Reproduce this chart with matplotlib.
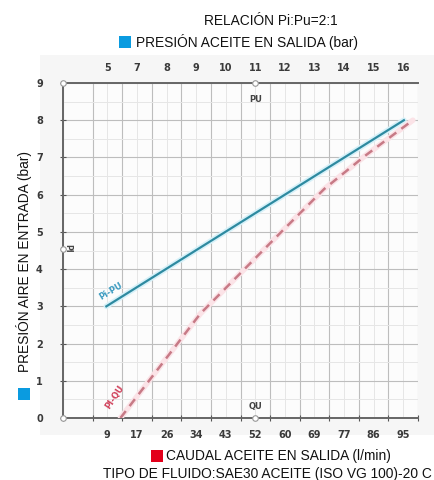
import numpy as np
import matplotlib
matplotlib.use("Agg")
import matplotlib.pyplot as plt
from matplotlib.patches import Rectangle

# ---- data ----
flow_labels = ["9", "17", "26", "34", "43", "52", "60", "69", "77", "86", "95"]
out_press_labels = ["5", "7", "8", "9", "10", "11", "12", "13", "14", "15", "16"]
in_press_ticks = [0, 1, 2, 3, 4, 5, 6, 7, 8, 9]

# Pi-PU line (flow l/min vs inlet pressure bar)
pipu_flow = [8.7, 95.2]
pipu_press = [3.0, 8.0]

# Pi-QU curve
piqu_flow = [12.8, 24, 36, 48, 60, 72, 84, 97.8]
piqu_press = [0.0, 1.35, 2.8, 3.92, 5.04, 6.15, 7.05, 8.0]

# ---- figure ----
fig = plt.figure(figsize=(4.35, 4.8), dpi=100)
fig.patches.append(Rectangle((40/435, 45/480), 395/435, 380/480, transform=fig.transFigure,
                             facecolor="#f6f6f6", edgecolor="none", zorder=-10))
ax = fig.add_axes([63/435, (480-418)/480, (418-63)/435, (418-83)/480])
ax.set_facecolor("#fcfcfc")

step = 8.6
label_pos = 9 + step*np.arange(11)
grid_pos = label_pos[0] - 1.5*step + step*np.arange(13)
ax.set_xlim(grid_pos[0], grid_pos[-1])
ax.set_ylim(0, 9)

ax.set_xticks(grid_pos)
ax.set_xticklabels([""]*len(grid_pos))
ax.set_xticks(label_pos, minor=True)
ax.set_xticklabels(flow_labels, minor=True)
ax.set_yticks(in_press_ticks)
ax.set_yticklabels([str(v) for v in in_press_ticks])
ax.set_yticks(np.arange(0.5, 9, 1), minor=True)

for lab in ax.get_xticklabels(minor=True) + ax.get_yticklabels():
    lab.set_fontsize(7); lab.set_fontweight("bold"); lab.set_color("#3a3a3a")

ax.tick_params(axis="x", which="major", direction="inout", length=5, width=0.8, color="#555", top=True)
ax.tick_params(axis="x", which="minor", length=0, pad=9)
ax.tick_params(axis="y", which="major", direction="inout", length=5, width=0.8, color="#555", pad=12)
ax.tick_params(axis="y", which="minor", length=0)

ax.grid(which="major", color="#bdbdbd", lw=0.8)
ax.grid(which="minor", color="#e6e6e6", lw=0.7)
ax.set_axisbelow(True)

for s in ["left", "top", "bottom"]:
    ax.spines[s].set_color("#666")
    ax.spines[s].set_linewidth(1.4)
ax.spines["right"].set_visible(False)

# top axis
axt = ax.twiny()
axt.set_xlim(ax.get_xlim())
axt.set_xticks(label_pos)
axt.set_xticklabels(out_press_labels, fontsize=7, fontweight="bold", color="#3a3a3a")
axt.tick_params(axis="x", length=0, pad=7)
for s in axt.spines.values():
    s.set_visible(False)

# lines
ax.plot(pipu_flow, pipu_press, color="#d6f1f9", lw=4, solid_capstyle="round", zorder=3)
ax.plot(pipu_flow, pipu_press, color="#2e8aa0", lw=1.6, zorder=4)
ax.plot(piqu_flow, piqu_press, color="#fbe3e7", lw=4, solid_capstyle="round", zorder=3)
ax.plot(piqu_flow, piqu_press, color="#c77a86", lw=1.8, dashes=(3.5, 2.5), zorder=4)

# markers on axes
mk = dict(marker="o", ms=4, mfc="white", mec="#999", mew=0.8, clip_on=False, zorder=6, ls="none")
ax.plot([grid_pos[0], grid_pos[0], grid_pos[0], 52, 52], [0, 9, 4.55, 9, 0], **mk)

# annotations
ax.text(9.9, 3.4, "Pi-PU", color="#3a9ac0", fontsize=6, fontweight="bold", rotation=31,
        ha="center", va="center", zorder=5)
ax.text(11.2, 0.55, "PI-QU", color="#d0405a", fontsize=6, fontweight="bold", rotation=56,
        ha="center", va="center", zorder=5)
ax.text(52, 8.55, "PU", fontsize=6, fontweight="bold", color="#444", ha="center", va="center")
ax.text(52, 0.3, "QU", fontsize=6, fontweight="bold", color="#444", ha="center", va="center")
ax.text(grid_pos[0] + 1.3, 4.55, "PI", fontsize=5.5, fontweight="bold", color="#444",
        ha="center", va="center", rotation=270)

# titles and labels
tf = dict(family="Liberation Sans", fontsize=9.9, color="#111")
fig.text(271/435, 1 - 21/480, "RELACIÓN Pi:Pu=2:1", ha="center", va="center", **tf)
fig.patches.append(Rectangle((119/435, 1 - 48/480), 12/435, 12/480, transform=fig.transFigure,
                             facecolor="#0a9be0", edgecolor="none"))
fig.text(136/435, 1 - 42/480, "PRESIÓN ACEITE EN SALIDA (bar)", ha="left", va="center", **tf)

fig.patches.append(Rectangle((151/435, 1 - 462/480), 12/435, 12/480, transform=fig.transFigure,
                             facecolor="#e3001b", edgecolor="none"))
fig.text(166/435, 1 - 456/480, "CAUDAL ACEITE EN SALIDA (l/min)", ha="left", va="center", **tf)
fig.text(103/435, 1 - 474/480, "TIPO DE FLUIDO:SAE30 ACEITE (ISO VG 100)-20 C", ha="left",
         va="center", **tf)

fig.patches.append(Rectangle((18/435, 1 - 400/480), 12/435, 12/480, transform=fig.transFigure,
                             facecolor="#0a9be0", edgecolor="none"))
fig.text(24/435, 1 - 262/480, "PRESIÓN AIRE EN ENTRADA (bar)", ha="center", va="center",
         rotation=90, **tf)

fig.savefig("out.png", dpi=100)
